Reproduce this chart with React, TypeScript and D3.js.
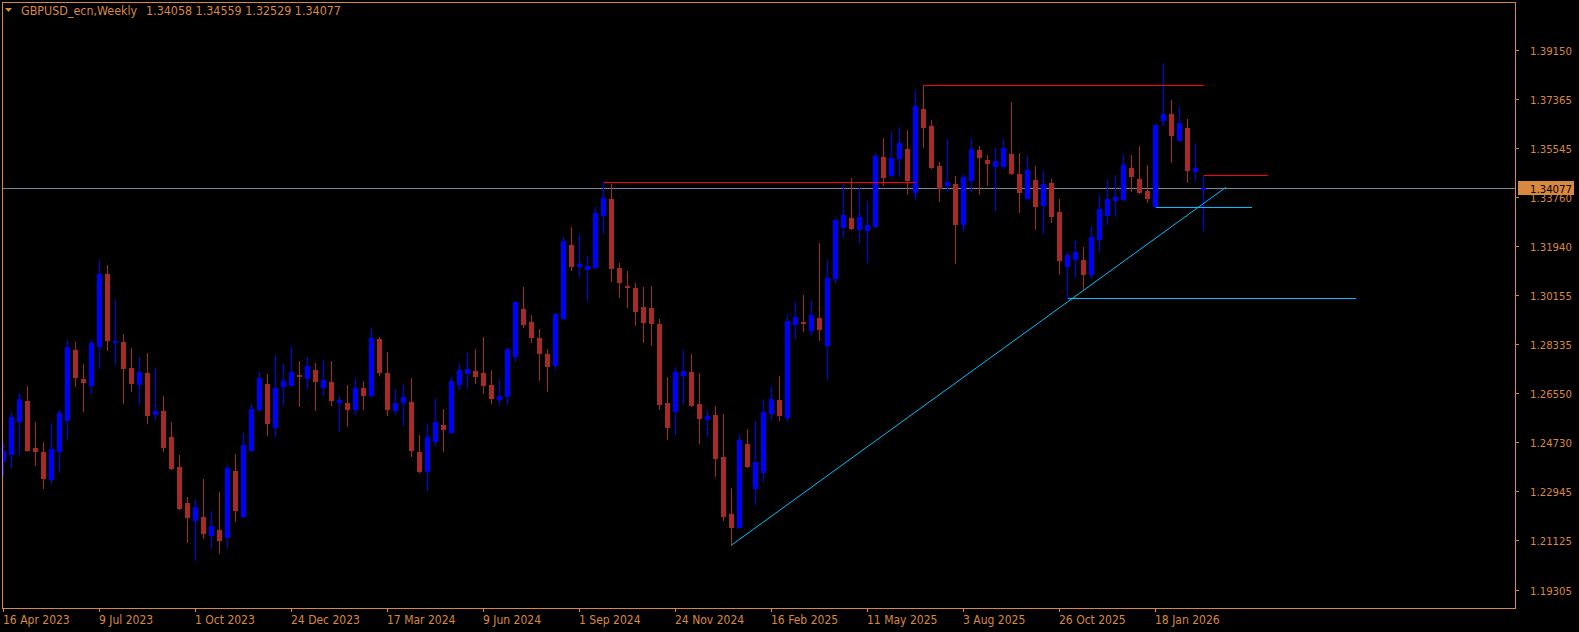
import React from "react";
import * as d3 from "d3";

// ---- Data (weekly GBPUSD_ecn, bar index 0 = week of 16 Apr 2023) ----
const opens = [
  1.2404, 1.2430, 1.2551, 1.2624, 1.2451, 1.2437, 1.2336, 1.2440, 1.2554, 1.2812,
  1.2705, 1.2683, 1.2827, 1.3092, 1.2843, 1.2841, 1.2746, 1.2687, 1.2727, 1.2577,
  1.2588, 1.2492, 1.2381, 1.2249, 1.2186, 1.2197, 1.2131, 1.2150, 1.2124, 1.2367,
  1.2201, 1.2444, 1.2595, 1.2687, 1.2529, 1.2680, 1.2683, 1.2720, 1.2709, 1.2738,
  1.2676, 1.2694, 1.2622, 1.2617, 1.2595, 1.2672, 1.2646, 1.2852, 1.2727, 1.2591,
  1.2621, 1.2621, 1.2437, 1.2367, 1.2477, 1.2536, 1.2510, 1.2687, 1.2727, 1.2735,
  1.2727, 1.2683, 1.2632, 1.2643, 1.2790, 1.2963, 1.2915, 1.2856, 1.2797, 1.2757,
  1.2930, 1.3198, 1.3121, 1.3110, 1.3117, 1.3309, 1.3368, 1.3114, 1.3049, 1.3040,
  1.2970, 1.2967, 1.2908, 1.2617, 1.2588, 1.2720, 1.2731, 1.2613, 1.2558, 1.2573,
  1.2418, 1.2209, 1.2161, 1.2466, 1.2304, 1.2363, 1.2580, 1.2628, 1.2565, 1.2908,
  1.2915, 1.2886, 1.2930, 1.2830, 1.3077, 1.3265, 1.3298, 1.3257, 1.3254, 1.3268,
  1.3522, 1.3456, 1.3519, 1.3552, 1.3393, 1.3699, 1.3636, 1.3489, 1.3418, 1.3423,
  1.3276, 1.3438, 1.3548, 1.3511, 1.3489, 1.3489, 1.3533, 1.3460, 1.3371, 1.3438,
  1.3346, 1.3427, 1.3320, 1.3121, 1.3147, 1.3143, 1.3092, 1.3220, 1.3309, 1.3364,
  1.3368, 1.3481, 1.3441, 1.3397, 1.3342, 1.3658, 1.3680, 1.3585, 1.3629, 1.3471,
  1.34058,
];
const highs = [
  1.2475, 1.2584, 1.2654, 1.2681, 1.2547, 1.2473, 1.2543, 1.2591, 1.2849, 1.2841,
  1.2761, 1.2849, 1.3143, 1.3125, 1.2996, 1.2871, 1.2819, 1.2786, 1.2801, 1.2746,
  1.2643, 1.2547, 1.2426, 1.2271, 1.2260, 1.2337, 1.2220, 1.2289, 1.2389, 1.2429,
  1.2507, 1.2613, 1.2731, 1.2724, 1.2794, 1.2761, 1.2827, 1.2772, 1.2786, 1.2764,
  1.2775, 1.2772, 1.2643, 1.2683, 1.2709, 1.2698, 1.2893, 1.2860, 1.2805, 1.2669,
  1.2683, 1.2709, 1.2499, 1.2540, 1.2635, 1.2595, 1.2713, 1.2761, 1.2801, 1.2816,
  1.2860, 1.2738, 1.2702, 1.2818, 1.2991, 1.3044, 1.2941, 1.2889, 1.2816, 1.2947,
  1.3228, 1.3265, 1.3239, 1.3158, 1.3338, 1.3432, 1.3423, 1.3132, 1.3103, 1.3059,
  1.3044, 1.3048, 1.2926, 1.2713, 1.2749, 1.2812, 1.2797, 1.2727, 1.2591, 1.2606,
  1.2577, 1.2304, 1.2503, 1.2521, 1.2551, 1.2632, 1.2680, 1.2716, 1.2945, 1.2989,
  1.3014, 1.2992, 1.3206, 1.3143, 1.3298, 1.3423, 1.3445, 1.3408, 1.3360, 1.3537,
  1.3592, 1.3614, 1.3633, 1.3622, 1.3769, 1.3786, 1.3658, 1.3504, 1.3589, 1.3452,
  1.3460, 1.3592, 1.3563, 1.3530, 1.3554, 1.3589, 1.3726, 1.3537, 1.3526, 1.3489,
  1.3471, 1.3441, 1.3368, 1.3173, 1.3217, 1.3191, 1.3268, 1.3386, 1.3438, 1.3456,
  1.3533, 1.3530, 1.3564, 1.3493, 1.3644, 1.3868, 1.3732, 1.3710, 1.3662, 1.3574,
  1.34559,
];
const lows = [
  1.2348, 1.2381, 1.2430, 1.2440, 1.2389, 1.2304, 1.2323, 1.2363, 1.2485, 1.2680,
  1.2588, 1.2654, 1.2746, 1.2812, 1.2761, 1.2617, 1.2661, 1.2613, 1.2543, 1.2558,
  1.2440, 1.2374, 1.2227, 1.2105, 1.2039, 1.2120, 1.2087, 1.2065, 1.2087, 1.2183,
  1.2199, 1.2440, 1.2588, 1.2499, 1.2496, 1.2610, 1.2678, 1.2606, 1.2669, 1.2591,
  1.2646, 1.2610, 1.2514, 1.2532, 1.2577, 1.2595, 1.2643, 1.2720, 1.2573, 1.2580,
  1.2536, 1.2422, 1.2363, 1.2297, 1.2462, 1.2440, 1.2507, 1.2669, 1.2676, 1.2691,
  1.2654, 1.2617, 1.2610, 1.2613, 1.2772, 1.2897, 1.2841, 1.2702, 1.2661, 1.2742,
  1.2926, 1.3106, 1.3084, 1.2996, 1.3114, 1.3243, 1.3066, 1.3007, 1.2970, 1.2904,
  1.2841, 1.2830, 1.2595, 1.2485, 1.2503, 1.2613, 1.2606, 1.2470, 1.2496, 1.2348,
  1.2186, 1.2094, 1.2157, 1.2381, 1.2245, 1.2330, 1.2558, 1.2554, 1.2552, 1.2856,
  1.2882, 1.2867, 1.2849, 1.2705, 1.3059, 1.3228, 1.3257, 1.3209, 1.3136, 1.3265,
  1.3418, 1.3449, 1.3452, 1.3387, 1.3368, 1.3559, 1.3481, 1.3360, 1.3397, 1.3132,
  1.3250, 1.3393, 1.3386, 1.3418, 1.3327, 1.3481, 1.3460, 1.3320, 1.3369, 1.3257,
  1.3243, 1.3283, 1.3092, 1.3002, 1.3081, 1.3033, 1.3077, 1.3176, 1.3276, 1.3305,
  1.3362, 1.3397, 1.3390, 1.3357, 1.3337, 1.3640, 1.3504, 1.3581, 1.3430, 1.3434,
  1.32529,
];
const closes = [
  1.2440, 1.2565, 1.2632, 1.2444, 1.2440, 1.2341, 1.2448, 1.2580, 1.2823, 1.2713,
  1.2694, 1.2838, 1.3092, 1.2849, 1.2845, 1.2746, 1.2691, 1.2731, 1.2573, 1.2588,
  1.2455, 1.2378, 1.2231, 1.2197, 1.2234, 1.2139, 1.2164, 1.2113, 1.2378, 1.2223,
  1.2462, 1.2595, 1.2709, 1.2543, 1.2672, 1.2698, 1.2731, 1.2718, 1.2753, 1.2698,
  1.2702, 1.2628, 1.2628, 1.2595, 1.2672, 1.2646, 1.2856, 1.2731, 1.2595, 1.2617,
  1.2639, 1.2444, 1.2367, 1.2492, 1.2547, 1.2521, 1.2698, 1.2738, 1.2742, 1.2716,
  1.2683, 1.2635, 1.2643, 1.2816, 1.2989, 1.2908, 1.2860, 1.2801, 1.2753, 1.2945,
  1.3213, 1.3121, 1.3128, 1.3121, 1.3316, 1.3371, 1.3114, 1.3062, 1.3044, 1.2956,
  1.2915, 1.2911, 1.2613, 1.2529, 1.2731, 1.2735, 1.2610, 1.2562, 1.2569, 1.2415,
  1.2201, 1.2161, 1.2481, 1.2385, 1.2400, 1.2584, 1.2632, 1.2573, 1.2919, 1.2933,
  1.2912, 1.2941, 1.2889, 1.3077, 1.3290, 1.3309, 1.3261, 1.3301, 1.3272, 1.3526,
  1.3449, 1.3519, 1.3574, 1.3438, 1.3710, 1.3633, 1.3485, 1.3408, 1.3430, 1.3276,
  1.3449, 1.3552, 1.3522, 1.3500, 1.3508, 1.3554, 1.3463, 1.3393, 1.3474, 1.3342,
  1.3423, 1.3305, 1.3143, 1.3162, 1.3173, 1.3092, 1.3228, 1.3331, 1.3368, 1.3375,
  1.3493, 1.3452, 1.3393, 1.3371, 1.3640, 1.3680, 1.3603, 1.3647, 1.3474, 1.3481,
  1.34077,
];

const priceTicks = [1.3915, 1.37365, 1.35545, 1.3376, 1.3194, 1.30155, 1.28335, 1.2655, 1.2473, 1.22945, 1.21125, 1.19305];
const dateLabels = [
  "16 Apr 2023", "9 Jul 2023", "1 Oct 2023", "24 Dec 2023", "17 Mar 2024", "9 Jun 2024",
  "1 Sep 2024", "24 Nov 2024", "16 Feb 2025", "11 May 2025", "3 Aug 2025", "26 Oct 2025", "18 Jan 2026",
];
const dateLabelIndex = [0, 12, 24, 36, 48, 60, 72, 84, 96, 108, 120, 132, 144];

// drawn objects: [startIndex, endIndex, price]
const redLevels: [number, number, number][] = [
  [75, 114, 1.3432],
  [115, 150, 1.3786],
  [150, 158, 1.34559],
];
const cyanLevels: [number, number, number][] = [
  [144, 156, 1.3337],
  [133, 169, 1.3002],
];
const trendPoints: [number, number][] = [
  [91, 1.2094],
  [152.8, 1.3411],
];
const currentPrice = 1.34077;
const titleSymbol = "GBPUSD_ecn,Weekly";
const titleValues = "1.34058 1.34559 1.32529 1.34077";

const W = 1579;
const H = 632;
const FR = { left: 2, top: 2, right: 1515, bottom: 608 };
const ORANGE = "#D9893F";
const BULL = "#0000FF";
const BEAR = "#A52A2A";
const FONT = "Tahoma, 'DejaVu Sans Condensed', 'Liberation Sans', sans-serif";

export default function App() {
  const x = d3.scaleLinear().domain([0, 1]).range([3.5, 11.5]);
  const y = d3.scaleLinear().domain([1.19305, 1.3915]).range([589.5, 50.4]);

  const trendLine = d3
    .line<[number, number]>()
    .x((d) => x(d[0]))
    .y((d) => y(d[1]));

  return (
    <svg
      width={W}
      height={H}
      style={{ position: "absolute", left: 0, top: 0, background: "#000" }}
      fontFamily={FONT}
    >
      <rect x={0} y={0} width={W} height={H} fill="#000" />
      <defs>
        <clipPath id="plot">
          <rect x={FR.left + 1} y={FR.top + 1} width={FR.right - FR.left - 1} height={FR.bottom - FR.top - 1} />
        </clipPath>
      </defs>

      <g clipPath="url(#plot)">
        {/* current price line */}
        <line
          x1={FR.left}
          x2={FR.right}
          y1={Math.round(y(currentPrice)) + 0.5}
          y2={Math.round(y(currentPrice)) + 0.5}
          stroke="#778899"
          strokeWidth={1}
          shapeRendering="crispEdges"
        />
        {/* candles */}
        <g shapeRendering="crispEdges">
          {opens.map((o, i) => {
            const c = closes[i];
            const bull = c >= o;
            const col = bull ? BULL : BEAR;
            const cx = x(i);
            const yt = Math.round(y(Math.max(o, c)));
            const yb = Math.round(y(Math.min(o, c)));
            const yh = Math.round(y(highs[i]));
            const yl = Math.round(y(lows[i]));
            return (
              <g key={i}>
                <rect x={cx - 0.5} y={yh} width={1} height={Math.max(1, yl - yh + 1)} fill={col} />
                <rect x={cx - 2.5} y={yt} width={5} height={Math.max(1, yb - yt + 1)} fill={col} />
              </g>
            );
          })}
        </g>
        {/* red levels */}
        {redLevels.map((d, i) => (
          <line
            key={"r" + i}
            x1={x(d[0])}
            x2={x(d[1])}
            y1={Math.round(y(d[2])) + 0.5}
            y2={Math.round(y(d[2])) + 0.5}
            stroke="#FF0000"
            strokeWidth={1}
            shapeRendering="crispEdges"
          />
        ))}
        {/* cyan levels */}
        {cyanLevels.map((d, i) => (
          <line
            key={"c" + i}
            x1={x(d[0])}
            x2={x(d[1])}
            y1={Math.round(y(d[2])) + 0.5}
            y2={Math.round(y(d[2])) + 0.5}
            stroke="#00BFFF"
            strokeWidth={1}
            shapeRendering="crispEdges"
          />
        ))}
        <path d={trendLine(trendPoints) || ""} stroke="#00BFFF" strokeWidth={1} fill="none" />
      </g>

      {/* frame */}
      <rect
        x={FR.left + 0.5}
        y={FR.top + 0.5}
        width={FR.right - FR.left}
        height={FR.bottom - FR.top}
        fill="none"
        stroke={ORANGE}
        strokeWidth={1}
        shapeRendering="crispEdges"
      />

      {/* title */}
      <path d="M5,8 L12,8 L8.5,12 Z" fill={ORANGE} />
      <text x={21} y={15} fill={ORANGE} fontSize={12.4}>
        {titleSymbol}
      </text>
      <text x={146} y={15} fill={ORANGE} fontSize={12.4}>
        {titleValues}
      </text>

      {/* price axis */}
      {priceTicks.map((v, i) => {
        const yy = Math.round(y(v)) + 0.5;
        return (
          <g key={"p" + i}>
            <line x1={FR.right} x2={FR.right + 4} y1={yy} y2={yy} stroke={ORANGE} strokeWidth={1} shapeRendering="crispEdges" />
            <text x={1530} y={yy} dy="0.36em" fill={ORANGE} fontSize={11.3}>
              {v.toFixed(5)}
            </text>
          </g>
        );
      })}
      {/* current price label */}
      <g>
        <rect x={1518} y={Math.round(y(currentPrice)) - 7} width={56} height={14} fill={ORANGE} />
        <text x={1530} y={Math.round(y(currentPrice)) + 0.5} dy="0.36em" fill="#000" fontSize={11.3}>
          {currentPrice.toFixed(5)}
        </text>
      </g>

      {/* date axis */}
      {dateLabels.map((lab, k) => {
        const xx = Math.round(x(dateLabelIndex[k]) - 1) + 0.5;
        return (
          <g key={"d" + k}>
            <line x1={xx} x2={xx} y1={FR.bottom} y2={FR.bottom + 4} stroke={ORANGE} strokeWidth={1} shapeRendering="crispEdges" />
            <text x={xx - 0.5} y={624} fill={ORANGE} fontSize={12}>
              {lab}
            </text>
          </g>
        );
      })}
    </svg>
  );
}
